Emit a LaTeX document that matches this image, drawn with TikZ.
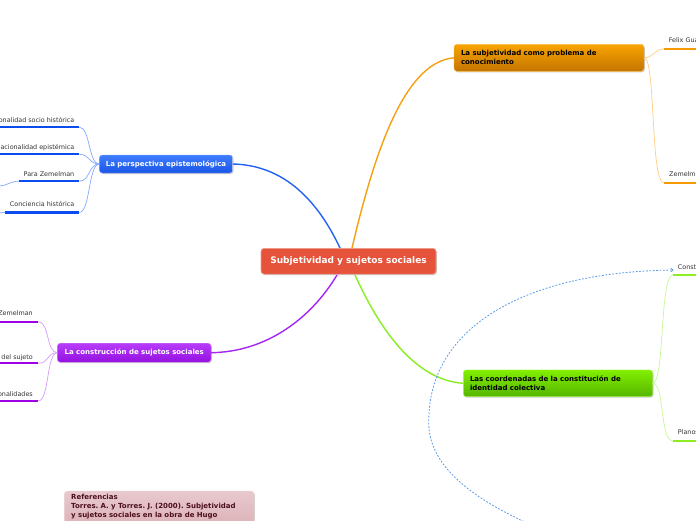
\documentclass[tikz,border=0pt]{standalone}
\usepackage{fontspec}
\setmainfont{DejaVu Sans}
\usetikzlibrary{shadows,arrows.meta}
\frenchspacing
\definecolor{rootc}{HTML}{E5533B}
\definecolor{rootb}{HTML}{F3A08F}
\definecolor{blueT}{HTML}{3F7DFF}
\definecolor{blueB}{HTML}{1A55E6}
\definecolor{blueBar}{HTML}{0A4CF0}
\definecolor{blueThin}{HTML}{85AAFF}
\definecolor{blueMain}{HTML}{2362F2}
\definecolor{purT}{HTML}{B83CFA}
\definecolor{purB}{HTML}{9410E0}
\definecolor{purBar}{HTML}{A000E6}
\definecolor{purThin}{HTML}{D49AFF}
\definecolor{purMain}{HTML}{A426F2}
\definecolor{oraT}{HTML}{F8A400}
\definecolor{oraB}{HTML}{C47400}
\definecolor{oraBar}{HTML}{F59B00}
\definecolor{oraThin}{HTML}{FFCD85}
\definecolor{oraMain}{HTML}{F5A010}
\definecolor{grnT}{HTML}{82F000}
\definecolor{grnB}{HTML}{55B400}
\definecolor{grnBar}{HTML}{8CEE22}
\definecolor{grnThin}{HTML}{C4F898}
\definecolor{grnMain}{HTML}{88EE20}
\definecolor{refT}{HTML}{E8C9CD}
\definecolor{refB}{HTML}{D6A7AE}
\definecolor{refTxt}{HTML}{4B0F1E}
\definecolor{dashc}{HTML}{5A9BE8}
\definecolor{leaftxt}{HTML}{333333}
\begin{document}
\begin{tikzpicture}[x=1pt,y=-1pt,
  topic/.style={rounded corners=3pt, outer sep=0pt, inner sep=0pt,
    drop shadow={shadow xshift=0.8pt, shadow yshift=-1pt, opacity=0.35, fill=black!60}},
  lbl/.style={font=\fontsize{7}{9}\selectfont\bfseries\frenchspacing},
  leaf/.style={font=\fontsize{6.4}{7.5}\selectfont, text=leaftxt, inner sep=0pt},
  bluebar/.style={blueBar, line width=2.3pt},
  purbar/.style={purBar, line width=2.3pt},
  orabar/.style={oraBar, line width=2.3pt},
  grnbar/.style={grnBar, line width=2.3pt},
  bluethin/.style={blueThin, line width=0.7pt},
  purthin/.style={purThin, line width=0.7pt},
  orathin/.style={oraThin, line width=0.7pt},
  grnthin/.style={grnThin, line width=0.7pt},
  mainline/.style={line width=1.4pt},
]
\clip (0,0) rectangle (696,520);
\fill[white] (0,0) rectangle (696,520);

\coordinate (rb) at (340,248);
\coordinate (ro) at (352,248);
\coordinate (rp) at (337,275);
\coordinate (rg) at (355,275);

% topic nodes
\node[topic, lbl, top color=blueT, bottom color=blueB, draw=blueT!60!white, text=white,
  minimum width=133.4pt, minimum height=18pt] (blue) at (166,164) {La perspectiva epistemológica};
\node[topic, lbl, top color=purT, bottom color=purB, draw=purT!60!white, text=white,
  minimum width=153.7pt, minimum height=19pt] (pur) at (134.2,352.7) {La construcción de sujetos sociales};
\node[topic, lbl, top color=oraT, bottom color=oraB, draw=oraT!70!white, text=black,
  minimum width=190pt, minimum height=27pt, text width=176pt, align=left] (ora) at (549,57.8)
  {La subjetividad como problema de\\conocimiento};
\node[topic, lbl, top color=grnT, bottom color=grnB, draw=grnT!70!white, text=black,
  minimum width=189.4pt, minimum height=26.7pt, text width=176pt, align=left] (grn) at (558,383.3)
  {Las coordenadas de la constitución de\\identidad colectiva};
\node[topic, lbl, top color=refT, bottom color=refB, draw=refT!70!white, text=refTxt,
  minimum width=189.7pt, text width=176pt, align=left, inner ysep=3pt, text depth=40pt,
  anchor=north] (ref) at (159.2,491)
  {Referencias\\Torres. A. y Torres. J. (2000). Subjetividad\\y sujetos sociales en la obra de Hugo};

\draw[mainline, blueMain] (rb) .. controls (315,195) and (280,165) .. (blue.east);
\draw[mainline, oraMain] (ro) .. controls (375,150) and (405,62) .. (ora.west);
\draw[mainline, purMain] (rp) .. controls (310,320) and (265,352) .. (pur.east);
\draw[mainline, grnMain] (rg) .. controls (380,330) and (415,380) .. (grn.west);

\node[topic, fill=rootc, draw=rootb, line width=0.6pt, text=white,
  font=\fontsize{9}{10}\selectfont\bfseries,
  minimum width=175pt, minimum height=25.7pt] (root) at (348.5,261.2) {Subjetividad y sujetos sociales};

% blue leaves
\node[leaf, anchor=base east] (b1) at (74.5,122) {onalidad socio histórica};
\node[leaf, anchor=base east] (b2) at (74.5,149) {acionalidad epistémica};
\node[leaf, anchor=base east] (b3) at (74.5,176.5) {Para Zemelman};
\node[leaf, anchor=base east] (b4) at (74.5,206.8) {Conciencia histórica};
\coordinate (b1a) at (-2,127.2); \coordinate (b1b) at (79.3,127.2);
\coordinate (b2a) at (-2,154.3); \coordinate (b2b) at (79.3,154.3);
\coordinate (b3a) at (19,181.2); \coordinate (b3b) at (79.3,181.2);
\coordinate (b4a) at (5,212.4); \coordinate (b4b) at (79.3,212.4);
\coordinate (b3x) at (-2,186); \coordinate (b4x) at (-2,213);
\foreach \i in {1,2,3,4} {
  \draw[bluebar] (b\i a) -- (b\i b);
  \draw[bluethin] (blue.west) .. controls +(-11,0) and +(11,0) .. (b\i b);
}
\draw[bluethin] (b3a) .. controls (10,181.2) and (8,185.8) .. (b3x);
\draw[bluethin] (b4a) -- (b4x);

% purple leaves
\node[leaf, anchor=base east] (p1) at (33,315.7) {Zemelman};
\node[leaf, anchor=base east] (p2) at (33,359) {del sujeto};
\node[leaf, anchor=base east] (p3) at (33,396.7) {onalidades};
\coordinate (p1a) at (-2,321.7); \coordinate (p1b) at (38.3,321.7);
\coordinate (p2a) at (-2,363.3); \coordinate (p2b) at (38.3,363.3);
\coordinate (p3a) at (-2,400.9); \coordinate (p3b) at (38.3,400.9);
\foreach \i in {1,2,3} {
  \draw[purbar] (p\i a) -- (p\i b);
  \draw[purthin] (pur.west) .. controls +(-11,0) and +(11,0) .. (p\i b);
}

% orange leaves
\node[leaf, anchor=base west] (o1) at (668.7,42.8) {Felix Gua};
\node[leaf, anchor=base west] (o2) at (669,176.8) {Zemelma};
\coordinate (o1a) at (664,49); \coordinate (o1b) at (700,49);
\coordinate (o2a) at (664,182.8); \coordinate (o2b) at (700,182.8);
\draw[orabar] (o1a) -- (o1b);
\draw[orabar] (o2a) -- (o2b);
\draw[orathin] (ora.east) .. controls +(10,0) and +(-10,0) .. (o1a);
\draw[orathin] (ora.east) .. controls +(12,0) and +(-14,0) .. (o2a);

% green leaves
\node[leaf, anchor=base west] (g1) at (677.7,269.4) {Const};
\node[leaf, anchor=base west] (g2) at (677.7,434.4) {Planos};
\coordinate (g1a) at (672.7,275.2); \coordinate (g1b) at (700,275.2);
\coordinate (g2a) at (672.7,440.8); \coordinate (g2b) at (700,440.8);
\draw[grnbar] (g1a) -- (g1b);
\draw[grnbar] (g2a) -- (g2b);
\draw[grnthin] (grn.east) .. controls +(12,0) and +(-13,0) .. (g1a);
\draw[grnthin] (grn.east) .. controls +(12,0) and +(-13,0) .. (g2a);

% dashed relation
\coordinate (dstart) at (527,523);
\coordinate (dmid) at (429,415);
\coordinate (dend) at (673.5,270);
\draw[dashc, line width=0.8pt, dash pattern=on 1.8pt off 1.6pt, -{To[length=3pt,width=4pt]}]
  (dstart) .. controls (455,490) and (425,455) .. (dmid)
  .. controls (432,330) and (520,272) .. (dend);
\end{tikzpicture}
\end{document}
